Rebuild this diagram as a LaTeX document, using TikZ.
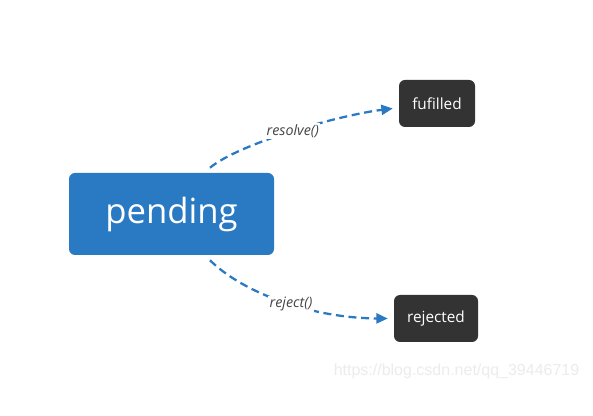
\documentclass[tikz,border=0pt]{standalone}
\usepackage{fontspec}
\setmainfont{Open Sans}
\newfontfamily\wmfont{Liberation Sans}
\usetikzlibrary{arrows.meta,calc}
\definecolor{blueA}{HTML}{2A79C3}
\definecolor{darkbox}{HTML}{333333}
\definecolor{labgray}{HTML}{444444}
\definecolor{wmgray}{HTML}{ECECEC}
\begin{document}
\begin{tikzpicture}[x=0.75pt,y=-0.75pt,
  mainbox/.style={fill=blueA, rounded corners=4.5pt, minimum width=153.75pt, minimum height=61.5pt, inner sep=0pt, text=white, font=\fontsize{26}{30}\selectfont},
  statebox/.style={fill=darkbox, rounded corners=4.5pt, minimum height=35.25pt, inner sep=0pt, text=white, font=\fontsize{11.5}{13}\selectfont},
  conn/.style={draw=blueA, line width=1.7pt, dash pattern=on 6pt off 3.5pt, -{Triangle[length=8.5pt,width=7.5pt]}},
  edgelab/.style={fill=white, inner sep=1pt, text=labgray, font=\itshape\fontsize{10.7}{12}\selectfont}]
\fill[white] (0,0) rectangle (593,416);
\useasboundingbox (0,0) rectangle (593,416);
\node[mainbox] (pending) at (171.5,214) {pending};
\node[statebox, minimum width=57pt] (fufilled) at (437,103.5) {fufilled};
\node[statebox, minimum width=63pt] (rejected) at (436,318.5) {rejected};
\draw[conn] ($(pending.north)+(38.5,-5)$) .. controls (240,143) and (340,115) .. ($(fufilled.west)+(-6,5)$)
  node[edgelab, pos=0.5] {resolve()};
\draw[conn] ($(pending.south)+(38.5,5)$) .. controls (242,292) and (310,318) .. ($(rejected.west)+(-6,0)$)
  node[edgelab, pos=0.55] {reject()};
\node[text=wmgray, font=\wmfont\fontsize{12}{14}\selectfont, anchor=east] (wm) at (584,371) {https://blog.csdn.net/qq\_39446719};
\end{tikzpicture}
\end{document}
